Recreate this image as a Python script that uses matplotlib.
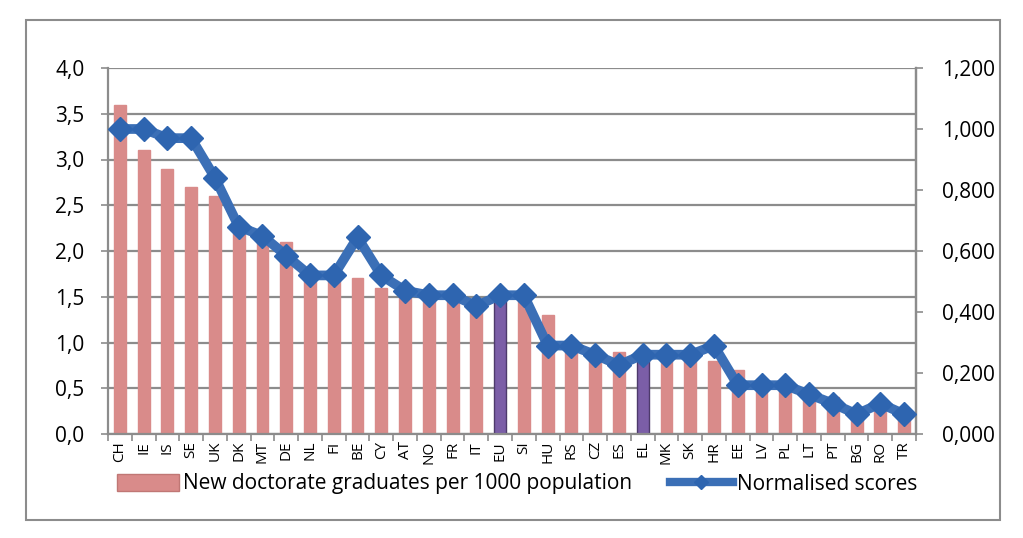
import matplotlib.pyplot as plt
from matplotlib.patches import Rectangle
from matplotlib.ticker import FuncFormatter, MultipleLocator
from matplotlib.lines import Line2D
from matplotlib.patches import Patch

countries = ['CH', 'IE', 'IS', 'SE', 'UK', 'DK', 'MT', 'DE', 'NL', 'FI', 'BE', 'CY',
             'AT', 'NO', 'FR', 'IT', 'EU', 'SI', 'HU', 'RS', 'CZ', 'ES', 'EL', 'MK',
             'SK', 'HR', 'EE', 'LV', 'PL', 'LT', 'PT', 'BG', 'RO', 'TR']
graduates = [3.6, 3.1, 2.9, 2.7, 2.6, 2.2, 2.1, 2.1, 1.8, 1.7, 1.7, 1.6,
             1.5, 1.5, 1.5, 1.4, 1.5, 1.5, 1.3, 0.9, 0.85, 0.9, 0.85, 0.85,
             0.85, 0.8, 0.7, 0.6, 0.6, 0.5, 0.4, 0.2, 0.3, 0.2]
scores = [1.0, 1.0, 0.97, 0.97, 0.84, 0.68, 0.65, 0.585, 0.52, 0.52, 0.645, 0.52,
          0.47, 0.455, 0.455, 0.42, 0.455, 0.455, 0.29, 0.29, 0.26, 0.226, 0.26, 0.26,
          0.26, 0.29, 0.16, 0.16, 0.16, 0.13, 0.10, 0.065, 0.10, 0.065]
highlight = ['EU', 'EL']

plt.rcParams['font.family'] = ['Open Sans', 'DejaVu Sans']

fig = plt.figure(figsize=(10.23, 5.38), dpi=100)
fig.patches.append(Rectangle((26 / 1023, 1 - 520 / 538), 974 / 1023, 500 / 538,
                             transform=fig.transFigure, fill=False,
                             edgecolor='#8c8c8c', linewidth=1.5))
ax = fig.add_axes([108 / 1023, 1 - 434 / 538, 808 / 1023, 366 / 538])
x = list(range(len(countries)))
cols = ['#7b5ea7' if c in highlight else '#d98b8a' for c in countries]
edges = ['#4d3a6b' if c in highlight else '#d98b8a' for c in countries]
ax.bar(x, graduates, width=0.5, color=cols, edgecolor=edges, linewidth=1, zorder=2)
ax.set_xlim(-0.5, len(countries) - 0.5)
ax.set_ylim(0, 4.0)
ax.yaxis.set_major_locator(MultipleLocator(0.5))
ax.yaxis.set_major_formatter(FuncFormatter(lambda v, p: ('%.1f' % v).replace('.', ',')))
ax.grid(axis='y', color='#8c8c8c', linewidth=1.6, zorder=0)
ax.set_axisbelow(True)
ax.set_xticks(x)
ax.set_xticklabels(countries, rotation=90, fontsize=11)
ax.set_xticks([i - 0.5 for i in range(len(countries) + 1)], minor=True)
ax.tick_params(axis='x', which='major', length=0, pad=5)
ax.tick_params(axis='x', which='minor', length=5, color='#8c8c8c', width=1.2)
ax.tick_params(axis='y', labelsize=15, length=5, color='#8c8c8c', width=1.2, pad=12)
ax.spines['top'].set_visible(False)
for s in ['left', 'bottom', 'right']:
    ax.spines[s].set_color('#8c8c8c')
    ax.spines[s].set_linewidth(1.6)

ax2 = ax.twinx()
ax2.plot(x, scores, color='#3b6fb6', linewidth=7, marker='D', markersize=12,
         markerfacecolor='#2e65b0', markeredgecolor='#2e65b0', zorder=3)
ax2.set_ylim(0, 1.2)
ax2.yaxis.set_major_locator(MultipleLocator(0.2))
ax2.yaxis.set_major_formatter(FuncFormatter(lambda v, p: ('%.3f' % v).replace('.', ',')))
ax2.tick_params(axis='y', labelsize=15, length=5, color='#8c8c8c', width=1.2, pad=14)
for s in ['top', 'left', 'bottom']:
    ax2.spines[s].set_visible(False)
ax2.spines['right'].set_color('#8c8c8c')
ax2.spines['right'].set_linewidth(1.6)

handles = [Patch(facecolor='#d98b8a', edgecolor='#c07775'),
           Line2D([0], [0], color='#3b6fb6', linewidth=6, marker='D', markersize=7,
                  markerfacecolor='#2e65b0', markeredgecolor='#2e65b0')]
fig.legend(handles, ['New doctorate graduates per 1000 population', 'Normalised scores'],
           loc='center', bbox_to_anchor=(517 / 1023, 1 - 484 / 538), ncol=2,
           frameon=False, fontsize=15, handlelength=3.0, handleheight=0.9,
           handletextpad=0.2, columnspacing=1.8, borderpad=0)

fig.savefig('out.png', dpi=100)
